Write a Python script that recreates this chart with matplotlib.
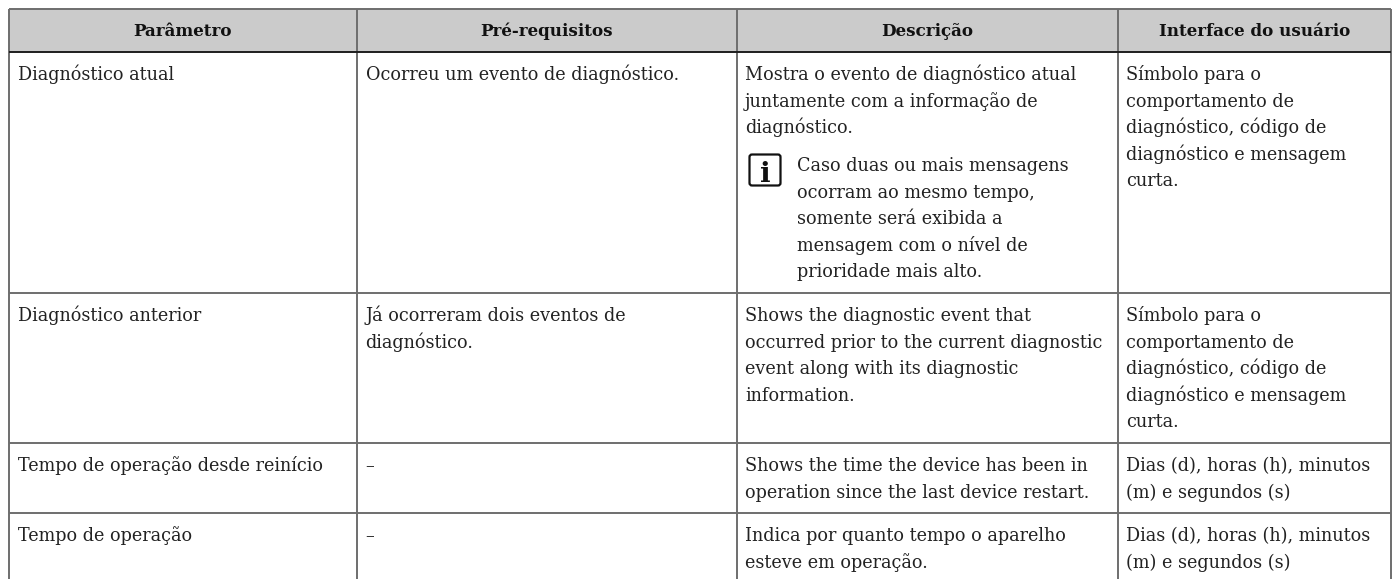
import matplotlib
matplotlib.use("Agg")
import matplotlib.pyplot as plt
from matplotlib.patches import Rectangle, FancyBboxPatch

W, H = 1392, 579

headers = ["Parâmetro", "Pré-requisitos", "Descrição", "Interface do usuário"]
col_edges = [9, 357, 736.5, 1118, 1391]
row_edges = [9, 52, 293, 443, 513, 579]

parametro = ["Diagnóstico atual", "Diagnóstico anterior",
             "Tempo de operação desde reinício", "Tempo de operação"]
prereq = ["Ocorreu um evento de diagnóstico.",
          "Já ocorreram dois eventos de\ndiagnóstico.", "–", "–"]
descricao = ["Mostra o evento de diagnóstico atual\njuntamente com a informação de\ndiagnóstico.",
             "Shows the diagnostic event that\noccurred prior to the current diagnostic\nevent along with its diagnostic\ninformation.",
             "Shows the time the device has been in\noperation since the last device restart.",
             "Indica por quanto tempo o aparelho\nesteve em operação."]
interface = ["Símbolo para o\ncomportamento de\ndiagnóstico, código de\ndiagnóstico e mensagem\ncurta.",
             "Símbolo para o\ncomportamento de\ndiagnóstico, código de\ndiagnóstico e mensagem\ncurta.",
             "Dias (d), horas (h), minutos\n(m) e segundos (s)",
             "Dias (d), horas (h), minutos\n(m) e segundos (s)"]
nota = "Caso duas ou mais mensagens\nocorram ao mesmo tempo,\nsomente será exibida a\nmensagem com o nível de\nprioridade mais alto."

FONT = "DejaVu Serif"
SIZE = 12.7
PITCH = 26.6

fig = plt.figure(figsize=(W / 100, H / 100), dpi=100)
ax = fig.add_axes([0, 0, 1, 1])
ax.set_xlim(0, W)
ax.set_ylim(H, 0)
ax.axis("off")

# header band
ax.add_patch(Rectangle((col_edges[0], row_edges[0]), col_edges[-1] - col_edges[0],
                       row_edges[1] - row_edges[0], fc="#cbcbcb", ec="none"))

for x in col_edges:
    ax.plot([x, x], [row_edges[0], H], color="#6e6e6e", lw=1.4, solid_capstyle="butt")
for i, y in enumerate(row_edges[:-1]):
    c = "#1e1e1e" if i == 1 else "#6e6e6e"
    ax.plot([col_edges[0], col_edges[-1]], [y, y], color=c, lw=1.4, solid_capstyle="butt")

for i, h in enumerate(headers):
    ax.text((col_edges[i] + col_edges[i + 1]) / 2, 36, h, family=FONT, size=12.1,
            weight="bold", ha="center", va="baseline", color="#111111")


def cell(x, y, s):
    # baselines placed line by line, the pitch is fixed in the source
    for k, line in enumerate(s.split("\n")):
        ax.text(x, y + k * PITCH, line, family=FONT, size=SIZE, color="#222222",
                ha="left", va="baseline")


columns = [parametro, prereq, descricao, interface]
for c, col in enumerate(columns):
    for r, s in enumerate(col):
        cell(col_edges[c] + 8.5, row_edges[r + 1] + 28, s)

# note with info icon
cell(797, 171, nota)
ax.add_patch(FancyBboxPatch((749.5, 154.5), 31, 31, boxstyle="round,pad=0,rounding_size=2.5",
                            fc="white", ec="#111111", lw=1.6))
ax.text(765, 182, "i", family="DejaVu Serif", weight="bold", size=20, ha="center",
        va="baseline", color="#111111")

fig.savefig("out.png", dpi=100)
